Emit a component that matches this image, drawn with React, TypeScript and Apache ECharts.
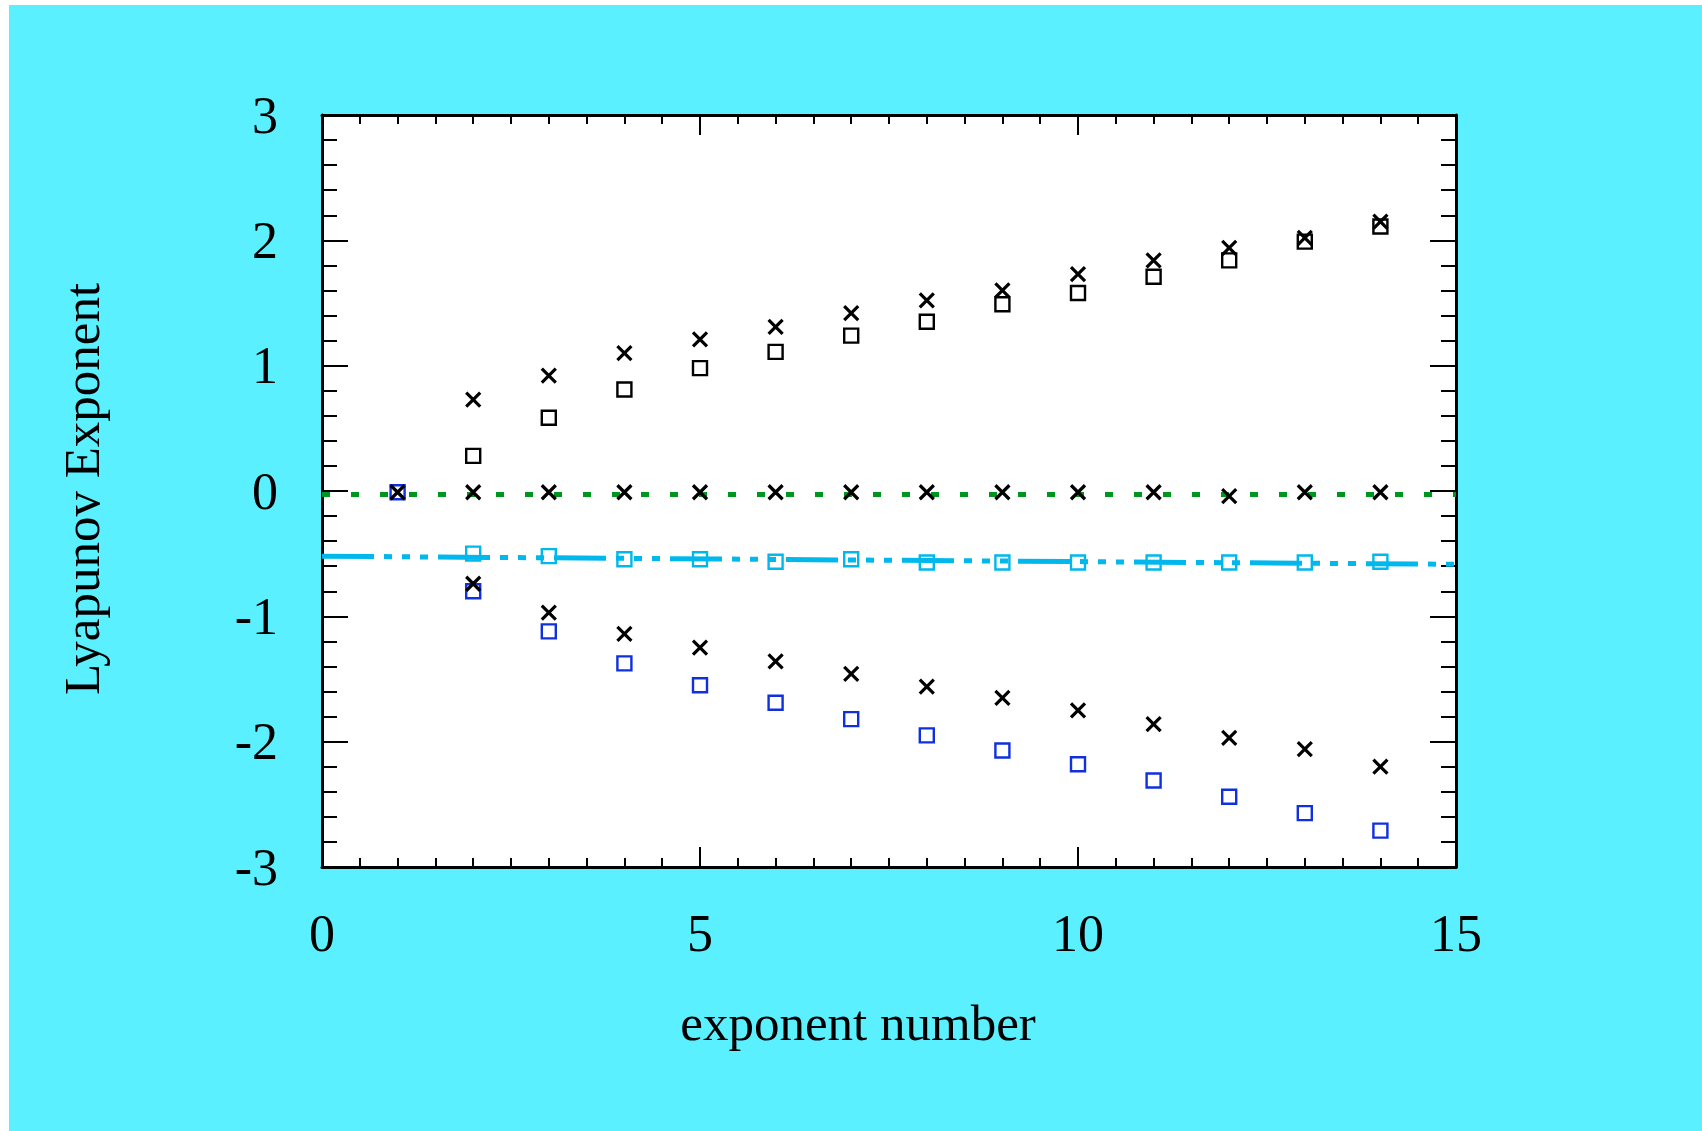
import React, { useEffect, useRef } from "react";
import * as echarts from "echarts";

// ---- data ----
const xAllIdx = [1, 2, 3, 4, 5, 6, 7, 8, 9, 10, 11, 12, 13, 14];
const xFromTwo = [2, 3, 4, 5, 6, 7, 8, 9, 10, 11, 12, 13, 14];

const zeroCross = [-0.01, -0.01, -0.01, -0.01, -0.01, -0.01, -0.01, -0.01, -0.01, -0.01, -0.01, -0.04, -0.01, -0.01];
const upperCross = [0.73, 0.92, 1.1, 1.21, 1.31, 1.42, 1.52, 1.6, 1.73, 1.84, 1.94, 2.02, 2.15];
const upperSquare = [0.28, 0.585, 0.81, 0.98, 1.11, 1.24, 1.35, 1.49, 1.58, 1.71, 1.84, 1.99, 2.11];
const lowerCross = [-0.74, -0.97, -1.14, -1.25, -1.36, -1.46, -1.56, -1.65, -1.75, -1.86, -1.97, -2.06, -2.2];
const lowerSquare = [-0.01, -0.8, -1.12, -1.375, -1.55, -1.69, -1.82, -1.95, -2.07, -2.18, -2.31, -2.44, -2.57, -2.71];
const midSquare = [-0.5, -0.52, -0.545, -0.545, -0.564, -0.545, -0.57, -0.57, -0.57, -0.57, -0.57, -0.57, -0.565];

const fitLineX = [0, 15];
const fitLineY = [-0.52, -0.585];
const zeroLineX = [0, 15];
const zeroLineY = [-0.027, -0.027];

const xTickLabels = ["0", "5", "10", "15"];
const yTickLabels = ["-3", "-2", "-1", "0", "1", "2", "3"];

const FONT = "Liberation Serif";
const CROSS = "path://M0,0L10,10M10,0L0,10";

function pairs(xs: number[], ys: number[]) {
  return xs.map((x, i) => [x, ys[i]]);
}

export default function App() {
  const ref = useRef<HTMLDivElement>(null);

  useEffect(() => {
    if (!ref.current) return;
    const chart = echarts.init(ref.current, null, { renderer: "svg" });

    const tickLine = { color: "#000", width: 2 };
    const axisLine = { show: true, onZero: false, lineStyle: { color: "#000", width: 3 } };

    const xAxisBase = (pos: "bottom" | "top", showLabel: boolean) => ({
      type: "value",
      position: pos,
      min: 0,
      max: 15,
      interval: 5,
      axisLine,
      axisTick: { show: true, inside: true, length: 20, lineStyle: tickLine },
      minorTick: { show: true, splitNumber: 10, length: 9, lineStyle: tickLine },
      splitLine: { show: false },
      axisLabel: {
        show: showLabel,
        fontFamily: FONT,
        fontSize: 52,
        color: "#000",
        margin: 40,
        formatter: (v: number) => {
          const i = Math.round(v / 5);
          return xTickLabels[i] ?? String(v);
        },
      },
    });

    const yAxisBase = (pos: "left" | "right", showLabel: boolean) => ({
      type: "value",
      position: pos,
      min: -3,
      max: 3,
      interval: 1,
      axisLine,
      axisTick: { show: true, inside: true, length: 26, lineStyle: tickLine },
      minorTick: { show: true, splitNumber: 5, length: 15, lineStyle: tickLine },
      splitLine: { show: false },
      axisLabel: {
        show: showLabel,
        fontFamily: FONT,
        fontSize: 52,
        color: "#000",
        margin: 44,
        formatter: (v: number) => {
          const i = Math.round(v + 3);
          return yTickLabels[i] ?? String(v);
        },
      },
    });

    const squareStyle = (c: string) => ({ color: "transparent", borderColor: c, borderWidth: 2.4, opacity: 1 });
    const crossStyle = { color: "none", borderColor: "#000", borderWidth: 3.2, opacity: 1 };

    chart.setOption({
      animation: false,
      backgroundColor: "#5bf0ff",
      grid: {
        left: 313,
        top: 110,
        width: 1134,
        height: 752,
        show: true,
        backgroundColor: "#ffffff",
        borderWidth: 0,
      },
      xAxis: [xAxisBase("bottom", true), xAxisBase("top", false)],
      yAxis: [yAxisBase("left", true), yAxisBase("right", false)],
      graphic: [
        {
          type: "text",
          x: 849,
          y: 1018,
          style: {
            text: "exponent number",
            font: `51px "${FONT}"`,
            fill: "#000",
            align: "center",
            verticalAlign: "middle",
          },
        },
        {
          type: "text",
          x: 73,
          y: 484,
          rotation: Math.PI / 2,
          style: {
            text: "Lyapunov Exponent",
            font: `51px "${FONT}"`,
            fill: "#000",
            align: "center",
            verticalAlign: "middle",
          },
        },
      ],
      series: [
        {
          type: "line",
          data: pairs(zeroLineX, zeroLineY),
          symbol: "none",
          lineStyle: { color: "#00961e", width: 5, type: [8, 21] },
          z: 1,
        },
        {
          type: "line",
          data: pairs(fitLineX, fitLineY),
          symbol: "none",
          lineStyle: { color: "#00b8ec", width: 5, type: [52, 10, 8, 10, 8, 10, 8, 10] },
          z: 1,
        },
        {
          type: "scatter",
          data: pairs(xFromTwo, midSquare),
          symbol: "rect",
          symbolSize: 14,
          itemStyle: squareStyle("#00b8ec"),
          z: 2,
        },
        {
          type: "scatter",
          data: pairs(xAllIdx, lowerSquare),
          symbol: "rect",
          symbolSize: 14,
          itemStyle: squareStyle("#1030e0"),
          z: 2,
        },
        {
          type: "scatter",
          data: pairs(xFromTwo, upperSquare),
          symbol: "rect",
          symbolSize: 14,
          itemStyle: squareStyle("#000"),
          z: 2,
        },
        {
          type: "scatter",
          data: pairs(xAllIdx, zeroCross),
          symbol: CROSS,
          symbolSize: 14,
          itemStyle: crossStyle,
          z: 3,
        },
        {
          type: "scatter",
          data: pairs(xFromTwo, upperCross),
          symbol: CROSS,
          symbolSize: 14,
          itemStyle: crossStyle,
          z: 3,
        },
        {
          type: "scatter",
          data: pairs(xFromTwo, lowerCross),
          symbol: CROSS,
          symbolSize: 14,
          itemStyle: crossStyle,
          z: 3,
        },
      ],
    });

    return () => chart.dispose();
  }, []);

  return (
    <div
      ref={ref}
      style={{ position: "absolute", left: 9, top: 5, width: 1693, height: 1126 }}
    />
  );
}
